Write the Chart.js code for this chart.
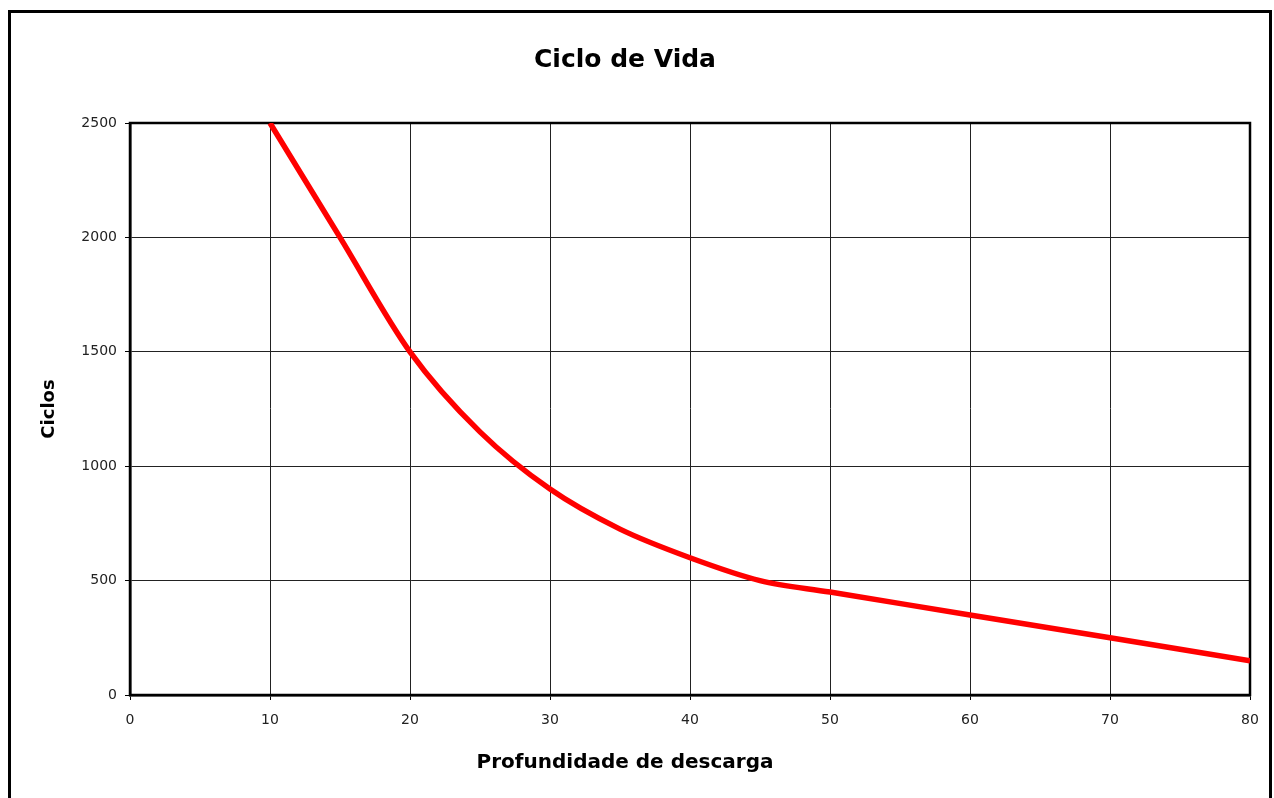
<!DOCTYPE html>
<html lang="pt">
<head>
<meta charset="utf-8">
<title>Ciclo de Vida</title>
<script src="https://cdn.jsdelivr.net/npm/chart.js@4.4.1/dist/chart.umd.min.js"></script>
<style>
    html, body { margin: 0; padding: 0; background: #fff; }
    canvas { display: block; }
</style>
</head>
<body>
<canvas id="ciclo_vida" width="1274" height="798"></canvas>
<script>
// Dados
const profundidade = [10, 15, 20, 25, 30, 35, 40, 45, 50, 60, 70, 80];
const ciclos = [2500, 2000, 1500, 1150, 900, 725, 600, 500, 450, 350, 250, 150];
const ticksX = [0, 10, 20, 30, 40, 50, 60, 70, 80];
const ticksY = [0, 500, 1000, 1500, 2000, 2500];

const pontos = profundidade.map((x, i) => ({ x: x, y: ciclos[i] }));

// Moldura externa e borda da área do gráfico
const molduras = {
    id: 'molduras',
    beforeDraw(chart) {
        const ctx = chart.ctx;
        ctx.save();
        ctx.fillStyle = '#fff';
        ctx.fillRect(0, 0, chart.width, chart.height);
        ctx.strokeStyle = '#000';
        ctx.lineWidth = 3;
        ctx.strokeRect(9.5, 11.5, 1261, 820);
        ctx.restore();
    },
    beforeDatasetsDraw(chart) {
        const { ctx, chartArea: a } = chart;
        ctx.save();
        ctx.strokeStyle = '#000';
        ctx.lineWidth = 2.5;
        ctx.strokeRect(a.left, a.top, a.right - a.left, a.bottom - a.top);
        ctx.restore();
    }
};

const fonteTicks = { family: 'DejaVu Sans', size: 14 };

const ctx = document.getElementById('ciclo_vida').getContext('2d');

new Chart(ctx, {
    type: 'line',
    data: {
        datasets: [{
            label: 'Ciclos',
            data: pontos,
            borderColor: '#ff0000',
            borderWidth: 5.5,
            pointRadius: 0,
            fill: false,
            cubicInterpolationMode: 'monotone'
        }]
    },
    options: {
        responsive: false,
        animation: false,
        layout: { padding: { left: 0, right: 24, top: 0, bottom: 0 } },
        plugins: {
            legend: { display: false },
            tooltip: { enabled: false },
            title: {
                display: true,
                text: 'Ciclo de Vida',
                color: '#000',
                font: { family: 'DejaVu Sans', size: 25, weight: 'bold' },
                padding: { top: 45, bottom: 48 }
            },
            // título do eixo X centralizado na figura, como no original
            subtitle: {
                display: true,
                position: 'bottom',
                text: 'Profundidade de descarga',
                color: '#000',
                font: { family: 'DejaVu Sans', size: 20, weight: 'bold' },
                padding: { top: 0, bottom: 23 }
            }
        },
        scales: {
            x: {
                type: 'linear',
                min: 0,
                max: 80,
                afterFit: (scale) => { scale.height = 56; },
                afterBuildTicks: (scale) => { scale.ticks = ticksX.map(v => ({ value: v })); },
                grid: { color: '#222', lineWidth: 1, tickLength: 5, tickColor: '#000' },
                border: { display: true, color: '#000', width: 2.5 },
                ticks: {
                    color: '#222',
                    padding: 12,
                    maxRotation: 0,
                    font: fonteTicks,
                    callback: (v) => String(v)
                }
            },
            y: {
                min: 0,
                max: 2500,
                afterFit: (scale) => { scale.width = 130; },
                afterBuildTicks: (scale) => { scale.ticks = ticksY.map(v => ({ value: v })); },
                grid: { color: '#222', lineWidth: 1, tickLength: 5, tickColor: '#000' },
                border: { display: true, color: '#000', width: 2.5 },
                ticks: {
                    color: '#222',
                    padding: 8,
                    font: fonteTicks,
                    callback: (v) => String(v)
                },
                title: {
                    display: true,
                    text: 'Ciclos',
                    color: '#000',
                    font: { family: 'DejaVu Sans', size: 18, weight: 'bold' },
                    padding: { top: 39, bottom: 0 }
                }
            }
        }
    },
    plugins: [molduras]
});
</script>
</body>
</html>
